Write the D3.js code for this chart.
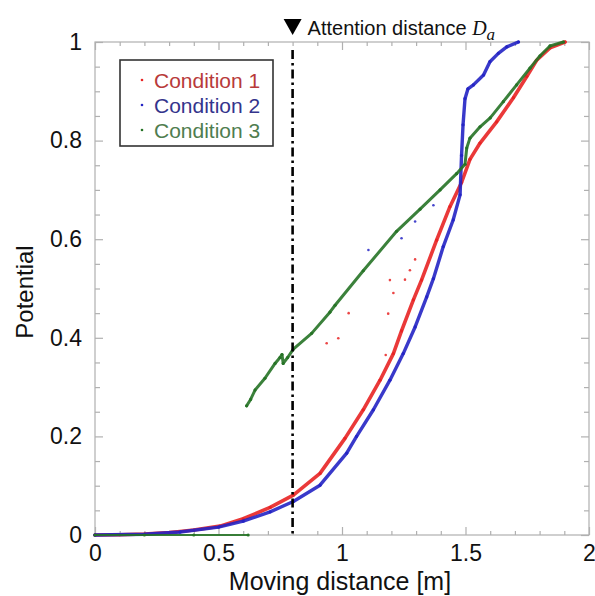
<!DOCTYPE html>
<html>
<head>
<meta charset="utf-8">
<script src="https://cdn.jsdelivr.net/npm/d3@7"></script>
<style>
  html, body { margin: 0; padding: 0; background: #fff; }
  svg { display: block; }
</style>
</head>
<body>
<svg id="chart" width="595" height="596"></svg>
<script>
// ---- Data ----
const seriesNames = ["Condition 1", "Condition 2", "Condition 3"];

const cond1 = [
  [0, 0], [0.1, 0.0005], [0.2, 0.002], [0.3, 0.005], [0.344, 0.007], [0.4, 0.01],
  [0.506, 0.018], [0.6, 0.033], [0.709, 0.056], [0.803, 0.081], [0.911, 0.125],
  [1.012, 0.196], [1.086, 0.254], [1.154, 0.314], [1.208, 0.368], [1.241, 0.414],
  [1.289, 0.477], [1.322, 0.517], [1.383, 0.598], [1.437, 0.666], [1.484, 0.715],
  [1.518, 0.762], [1.559, 0.795], [1.626, 0.838], [1.694, 0.887], [1.748, 0.93],
  [1.788, 0.963], [1.842, 0.988], [1.903, 1.0]
];
const cond1Outliers = [
  [0.938, 0.389], [0.985, 0.399], [1.027, 0.45], [1.177, 0.365], [1.187, 0.449],
  [1.194, 0.517], [1.208, 0.491], [1.255, 0.518], [1.275, 0.537], [1.296, 0.559]
];

const cond2 = [
  [0, 0], [0.2, 0.0015], [0.344, 0.006], [0.5, 0.016], [0.6, 0.028], [0.709, 0.047],
  [0.803, 0.068], [0.911, 0.101], [1.019, 0.166], [1.059, 0.2], [1.127, 0.254],
  [1.194, 0.314], [1.248, 0.368], [1.296, 0.422], [1.343, 0.483], [1.37, 0.52],
  [1.41, 0.585], [1.45, 0.639], [1.478, 0.69], [1.484, 0.77], [1.49, 0.832],
  [1.498, 0.885], [1.51, 0.905], [1.532, 0.913], [1.573, 0.933], [1.599, 0.96],
  [1.633, 0.977], [1.667, 0.99], [1.714, 1.0]
];
const cond2Outliers = [
  [1.107, 0.578], [1.241, 0.602], [1.296, 0.636], [1.37, 0.669]
];

const cond3Zero = [
  [0, 0], [0.2, 0], [0.4, 0], [0.62, 0]
];
const cond3 = [
  [0.614, 0.262], [0.63, 0.275], [0.648, 0.294], [0.688, 0.318], [0.729, 0.348],
  [0.749, 0.36], [0.757, 0.366], [0.762, 0.348], [0.78, 0.36], [0.803, 0.377],
  [0.877, 0.409], [0.951, 0.452], [0.972, 0.466], [1.086, 0.536], [1.221, 0.616],
  [1.316, 0.661], [1.397, 0.70], [1.464, 0.733], [1.498, 0.752], [1.505, 0.785],
  [1.518, 0.805], [1.559, 0.828], [1.6, 0.846], [1.653, 0.879], [1.707, 0.913],
  [1.761, 0.947], [1.802, 0.972], [1.842, 0.992], [1.896, 1.0]
];

const xMajorTicks = [0, 0.5, 1, 1.5, 2];
const xTickLabels = ["0", "0.5", "1", "1.5", "2"];
const xMinorTicks = [0.1, 0.2, 0.3, 0.4, 0.6, 0.7, 0.8, 0.9, 1.1, 1.2, 1.3, 1.4, 1.6, 1.7, 1.8, 1.9];
const yMajorTicks = [0, 0.2, 0.4, 0.6, 0.8, 1];
const yTickLabels = ["0", "0.2", "0.4", "0.6", "0.8", "1"];
const yMinorTicks = [0.05, 0.1, 0.15, 0.25, 0.3, 0.35, 0.45, 0.5, 0.55, 0.65, 0.7, 0.75, 0.85, 0.9, 0.95];
const attentionDistance = 0.8;

// ---- Layout / style ----
const svg = d3.select("#chart");
const mLeft = 95, mRight = 589, mTop = 42, mBottom = 535;
const x = d3.scaleLinear().domain([0, 2]).range([mLeft, mRight]);
const y = d3.scaleLinear().domain([0, 1]).range([mBottom, mTop]);

const colors = ["#e82424", "#2424c4", "#267326"];
const legendTextColors = ["#b83a3a", "#34348c", "#4f7d4f"];
const axisColor = "#b0b0b0";
const tickFont = "'Liberation Sans', Arial, sans-serif";

// frame
svg.append("rect")
  .attr("x", mLeft).attr("y", mTop)
  .attr("width", mRight - mLeft).attr("height", mBottom - mTop)
  .attr("fill", "none").attr("stroke", axisColor).attr("stroke-width", 1.2);

function styleAxis(g) {
  g.select(".domain").remove();
  g.selectAll(".tick line").attr("stroke", axisColor).attr("stroke-width", 1.2);
  g.selectAll(".tick text").attr("fill", "#111").style("font-family", tickFont).style("font-size", "23px");
}

// bottom axis
svg.append("g").attr("transform", `translate(0,${mBottom})`)
  .call(d3.axisBottom(x).tickValues(xMajorTicks).tickFormat((d, i) => xTickLabels[i])
    .tickSizeInner(-8).tickSizeOuter(0).tickPadding(10))
  .call(styleAxis);
svg.append("g").attr("transform", `translate(0,${mBottom})`)
  .call(d3.axisBottom(x).tickValues(xMinorTicks).tickFormat("").tickSizeInner(-4).tickSizeOuter(0))
  .call(styleAxis);
// top axis
svg.append("g").attr("transform", `translate(0,${mTop})`)
  .call(d3.axisTop(x).tickValues(xMajorTicks).tickFormat("").tickSizeInner(-8).tickSizeOuter(0))
  .call(styleAxis);
svg.append("g").attr("transform", `translate(0,${mTop})`)
  .call(d3.axisTop(x).tickValues(xMinorTicks).tickFormat("").tickSizeInner(-4).tickSizeOuter(0))
  .call(styleAxis);
// left axis
svg.append("g").attr("transform", `translate(${mLeft},0)`)
  .call(d3.axisLeft(y).tickValues(yMajorTicks).tickFormat((d, i) => yTickLabels[i])
    .tickSizeInner(-8).tickSizeOuter(0).tickPadding(13))
  .call(styleAxis);
svg.append("g").attr("transform", `translate(${mLeft},0)`)
  .call(d3.axisLeft(y).tickValues(yMinorTicks).tickFormat("").tickSizeInner(-5).tickSizeOuter(0))
  .call(styleAxis);
// right axis
svg.append("g").attr("transform", `translate(${mRight},0)`)
  .call(d3.axisRight(y).tickValues(yMajorTicks).tickFormat("").tickSizeInner(-8).tickSizeOuter(0))
  .call(styleAxis);
svg.append("g").attr("transform", `translate(${mRight},0)`)
  .call(d3.axisRight(y).tickValues(yMinorTicks).tickFormat("").tickSizeInner(-5).tickSizeOuter(0))
  .call(styleAxis);

// ---- series ----
const line = d3.line().x(d => x(d[0])).y(d => y(d[1]));
const plot = svg.append("g");

function drawSeries(data, color, width) {
  plot.append("path").datum(data)
    .attr("d", line).attr("fill", "none")
    .attr("stroke", color).attr("stroke-width", width)
    .attr("stroke-linejoin", "round").attr("stroke-linecap", "round")
    .attr("opacity", 0.9);
  plot.append("g").selectAll("circle").data(data).join("circle")
    .attr("cx", d => x(d[0])).attr("cy", d => y(d[1]))
    .attr("r", 1.6).attr("fill", color);
}
function drawDots(data, color) {
  plot.append("g").selectAll("circle").data(data).join("circle")
    .attr("cx", d => x(d[0])).attr("cy", d => y(d[1]))
    .attr("r", 1.3).attr("fill", color).attr("opacity", 0.85);
}

drawSeries(cond1, colors[0], 3.6);
drawDots(cond1Outliers, colors[0]);
drawSeries(cond2, colors[1], 3.4);
drawDots(cond2Outliers, colors[1]);
drawSeries(cond3, colors[2], 3);
drawSeries(cond3Zero, colors[2], 2);

// attention distance line
svg.append("line")
  .attr("x1", x(attentionDistance)).attr("x2", x(attentionDistance))
  .attr("y1", mTop + 8).attr("y2", mBottom)
  .attr("stroke", "#000").attr("stroke-width", 2.6)
  .attr("stroke-dasharray", "9,4,2.5,4");

// triangle marker
const tx = x(attentionDistance);
svg.append("path")
  .attr("d", `M${tx - 9},19 L${tx + 9},19 L${tx},35 Z`)
  .attr("fill", "#000");

const title = svg.append("text")
  .attr("x", tx + 15).attr("y", 35)
  .style("font-family", tickFont).style("font-size", "20px").attr("fill", "#111");
title.append("tspan").text("Attention distance ");
title.append("tspan").text("D")
  .style("font-family", "'Liberation Serif', 'DejaVu Serif', serif").style("font-style", "italic").style("font-size", "20px");
title.append("tspan").text("a").attr("dy", 5)
  .style("font-family", "'Liberation Serif', 'DejaVu Serif', serif").style("font-style", "italic").style("font-size", "17px");

// ---- legend ----
const legend = svg.append("g");
legend.append("rect")
  .attr("x", 120).attr("y", 60).attr("width", 153).attr("height", 86)
  .attr("fill", "#fff").attr("stroke", "#333").attr("stroke-width", 1.6);
seriesNames.forEach((name, i) => {
  const cy = 80 + i * 25;
  legend.append("circle").attr("cx", 142).attr("cy", cy).attr("r", 1.3).attr("fill", colors[i]);
  legend.append("text").attr("x", 154).attr("y", cy).attr("dy", "0.36em")
    .style("font-family", tickFont).style("font-size", "21px")
    .attr("fill", legendTextColors[i]).text(name);
});

// ---- axis titles ----
svg.append("text")
  .attr("x", (mLeft + mRight) / 2 - 2).attr("y", 590)
  .attr("text-anchor", "middle")
  .style("font-family", tickFont).style("font-size", "25px").attr("fill", "#111")
  .text("Moving distance [m]");
svg.append("text")
  .attr("transform", `translate(33,292) rotate(-90)`)
  .attr("text-anchor", "middle")
  .style("font-family", tickFont).style("font-size", "24px").attr("fill", "#111")
  .text("Potential");
</script>
</body>
</html>
